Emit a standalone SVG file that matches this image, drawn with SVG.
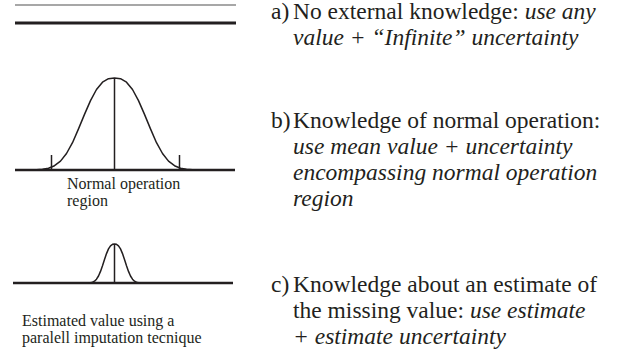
<svg xmlns="http://www.w3.org/2000/svg" width="620" height="351" viewBox="0 0 620 351">
<style>
.t{font-family:"Liberation Serif","Times New Roman",serif;fill:#231f20}
.r{font-size:23.5px}
.l{font-size:16px}
.i{font-style:italic}
.base{stroke:#231f20;stroke-width:2.5;fill:none}
.crv{stroke:#231f20;stroke-width:1.5;fill:none}
</style>
<rect width="620" height="351" fill="#fff"/>
<g id="panel-a">
<line x1="15" y1="5" x2="236" y2="5" stroke="#8a8a8a" stroke-width="1.5"/>
<line x1="15" y1="23" x2="236" y2="23" stroke="#231f20" stroke-width="3"/>
<text class="t r" x="271" y="19">a)</text>
<text class="t r" x="293" y="19">No external knowledge: <tspan class="i">use any</tspan></text>
<text class="t r i" x="293" y="45">value + “Infinite” uncertainty</text>
</g>
<g id="panel-b">
<line class="base" x1="15" y1="170" x2="235" y2="170"/>
<path class="crv" d="M30.5,170 L36.5,169.8 L42.5,169.3 L48.5,168.2 L54.5,165.7 L60.5,161.1 L66.5,153.5 L72.5,142.7 L78.5,128.9 L84.5,114.4 L90.5,100.6 L96.5,89.5 L102.5,82.2 L108.5,78.7 L114.5,78 L120.5,78.7 L126.5,82.2 L132.5,89.5 L138.5,100.6 L144.5,114.4 L150.5,128.9 L156.5,142.7 L162.5,153.5 L168.5,161.1 L174.5,165.7 L180.5,168.2 L186.5,169.3 L192.5,169.8 L198.5,170" stroke-linejoin="round"/>
<line class="crv" x1="114.5" y1="78" x2="114.5" y2="170"/>
<line class="crv" x1="51.5" y1="155" x2="51.5" y2="170"/>
<line class="crv" x1="179.5" y1="155" x2="179.5" y2="170"/>
<text class="t l" x="67" y="189">Normal operation</text>
<text class="t l" x="67" y="206">region</text>
<text class="t r" x="271" y="128">b)</text>
<text class="t r" x="293" y="128">Knowledge of normal operation:</text>
<text class="t r i" x="293" y="154">use mean value + uncertainty</text>
<text class="t r i" x="293" y="180">encompassing normal operation</text>
<text class="t r i" x="293" y="206">region</text>
</g>
<g id="panel-c">
<line class="base" x1="13" y1="283" x2="233" y2="283"/>
<path class="crv" d="M88.5,283 L90.5,282.7 L92.5,282.2 L94.5,281.2 L96.5,279.2 L98.5,276 L100.5,271.4 L102.5,265.7 L104.5,259.4 L106.5,253.6 L108.5,248.9 L110.5,245.8 L112.5,244.3 L114.5,244 L116.5,244.3 L118.5,245.8 L120.5,248.9 L122.5,253.6 L124.5,259.4 L126.5,265.7 L128.5,271.4 L130.5,276 L132.5,279.2 L134.5,281.2 L136.5,282.2 L138.5,282.7 L140.5,283" stroke-linejoin="round"/>
<line class="crv" x1="114.5" y1="244" x2="114.5" y2="283"/>
<text class="t l" x="22" y="326">Estimated value using a</text>
<text class="t l" x="22" y="343">paralell imputation tecnique</text>
<text class="t r" x="271" y="292">c)</text>
<text class="t r" x="293" y="292">Knowledge about an estimate of</text>
<text class="t r" x="293" y="318">the missing value: <tspan class="i">use estimate</tspan></text>
<text class="t r i" x="293" y="344">+ estimate uncertainty</text>
</g>
</svg>
